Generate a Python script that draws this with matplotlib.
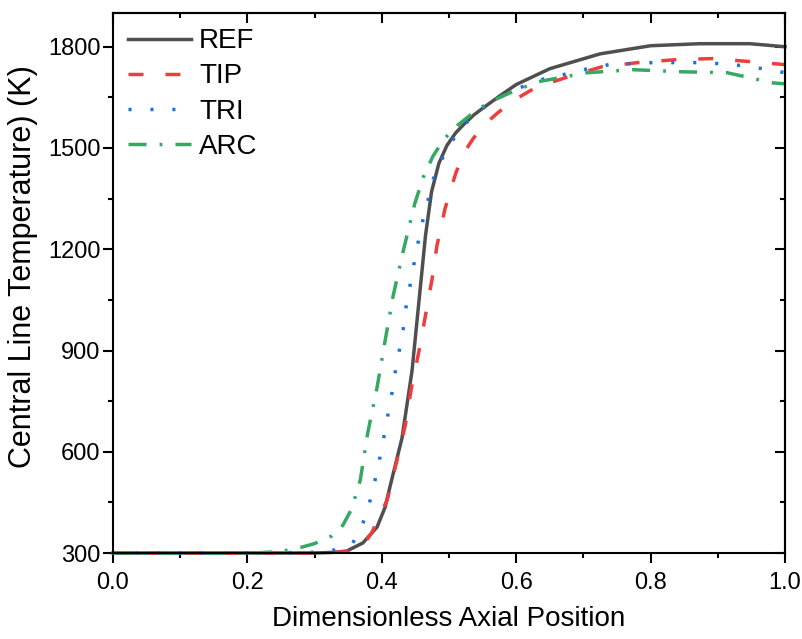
import matplotlib
matplotlib.use("Agg")
import matplotlib.pyplot as plt
from matplotlib.ticker import MultipleLocator

plt.rcParams["font.family"] = ["Liberation Sans", "DejaVu Sans"]
plt.rcParams["lines.scale_dashes"] = False

# central line temperature vs dimensionless axial position
ref_x = [0, 0.1, 0.2, 0.3, 0.33, 0.348, 0.372, 0.393, 0.405, 0.412, 0.43, 0.445, 0.455,
         0.465, 0.474, 0.485, 0.497, 0.51, 0.523, 0.537, 0.551, 0.576, 0.6, 0.65, 0.725,
         0.8, 0.873, 0.948, 1.0]
ref_t = [300, 300, 300, 300, 302, 306, 330, 377, 436, 495, 640, 840, 1040,
         1240, 1370, 1455, 1508, 1545, 1572, 1598, 1619, 1655, 1688, 1735, 1779,
         1803, 1809, 1809, 1800]

tip_x = [0, 0.1, 0.2, 0.3, 0.35, 0.372, 0.385, 0.408, 0.422, 0.435, 0.444, 0.455, 0.465,
         0.475, 0.482, 0.494, 0.51, 0.522, 0.536, 0.553, 0.573, 0.597, 0.621, 0.645, 0.673,
         0.728, 0.781, 0.839, 0.893, 0.948, 1.0]
tip_t = [300, 300, 300, 300, 304, 322, 360, 457, 570, 679, 788, 895, 1004,
         1114, 1210, 1320, 1425, 1485, 1528, 1570, 1605, 1642, 1670, 1690, 1708,
         1741, 1753, 1762, 1765, 1756, 1747]

tri_x = [0, 0.1, 0.2, 0.3, 0.33, 0.357, 0.372, 0.382, 0.39, 0.397, 0.403, 0.409, 0.415,
         0.42, 0.426, 0.432, 0.436, 0.442, 0.448, 0.454, 0.461, 0.469, 0.476, 0.49, 0.505,
         0.524, 0.551, 0.58, 0.606, 0.64, 0.676, 0.707, 0.738, 0.772, 0.804, 0.838, 0.871,
         0.903, 0.936, 0.967, 1.0]
tri_t = [300, 300, 300, 302, 309, 330, 389, 451, 516, 581, 643, 708, 773,
         836, 900, 965, 1028, 1093, 1158, 1220, 1285, 1347, 1405, 1469, 1522,
         1572, 1619, 1655, 1679, 1704, 1720, 1735, 1747, 1750, 1753, 1753, 1753,
         1750, 1744, 1735, 1723]

arc_x = [0, 0.1, 0.2, 0.22, 0.25, 0.275, 0.3, 0.325, 0.342, 0.355, 0.368, 0.379, 0.393,
         0.405, 0.417, 0.432, 0.449, 0.462, 0.476, 0.492, 0.512, 0.542, 0.565, 0.6, 0.637,
         0.705, 0.774, 0.81, 0.844, 0.914, 0.948, 0.982, 1.0]
arc_t = [300, 300, 300, 301, 305, 314, 328, 350, 382, 430, 516, 655, 791,
         930, 1063, 1196, 1335, 1415, 1475, 1525, 1566, 1614, 1640, 1672, 1698,
         1723, 1732, 1729, 1726, 1723, 1708, 1693, 1690]

fig = plt.figure(figsize=(8.03, 6.39), dpi=100)
ax = fig.add_axes([113 / 803, 1 - 553 / 639, 672 / 803, 540 / 639])

ax.plot(ref_x, ref_t, color="#4f4f4f", lw=2.5, label="REF", clip_on=False)
ax.plot(tip_x, tip_t, color="#f03c3c", lw=2.5, dashes=(10.8, 15.8), label="TIP", clip_on=False)
ax.plot(tri_x, tri_t, color="#1e6fe0", lw=2.5, dashes=(2.2, 13.6), label="TRI", clip_on=False)
ax.plot(arc_x, arc_t, color="#35a862", lw=2.5, dashes=(13, 9.4, 2, 9.4), label="ARC",
        clip_on=False)

ax.set_xlim(0, 1.0)
ax.set_ylim(300, 1900)
ax.xaxis.set_major_locator(MultipleLocator(0.2))
ax.xaxis.set_minor_locator(MultipleLocator(0.1))
ax.yaxis.set_minor_locator(MultipleLocator(150))
ax.set_yticks([300, 600, 900, 1200, 1500, 1800])

for s in ax.spines.values():
    s.set_linewidth(1.5)

ax.tick_params(which="both", width=1.5, labelsize=17)
ax.tick_params(which="major", length=7)
ax.tick_params(which="minor", length=3.5)
ax.tick_params(axis="x", which="both", direction="out", top=False, pad=7)
ax.tick_params(axis="y", which="both", direction="out", right=False, pad=2)

# mirrored ticks pointing inward on top and right
top = ax.secondary_xaxis("top")
top.xaxis.set_major_locator(MultipleLocator(0.2))
top.xaxis.set_minor_locator(MultipleLocator(0.1))
top.tick_params(which="both", direction="in", width=1.5, labeltop=False)
top.tick_params(which="major", length=7)
top.tick_params(which="minor", length=3.5)
top.spines["top"].set_linewidth(1.5)
right = ax.secondary_yaxis("right")
right.yaxis.set_major_locator(MultipleLocator(300))
right.yaxis.set_minor_locator(MultipleLocator(150))
right.tick_params(which="both", direction="in", width=1.5, labelright=False)
right.tick_params(which="major", length=7)
right.tick_params(which="minor", length=3.5)
right.spines["right"].set_linewidth(1.5)

ax.set_xlabel("Dimensionless Axial Position", fontsize=20, labelpad=8)
ax.set_ylabel("Central Line Temperature) (K)", fontsize=22)
ax.yaxis.set_label_coords(-0.112, 0.53)

ax.legend(loc="upper left", frameon=False, fontsize=20, handlelength=2.25,
          handletextpad=0.3, labelspacing=0.33, borderaxespad=0.3, borderpad=0.25)

fig.savefig("out.png", dpi=100)
